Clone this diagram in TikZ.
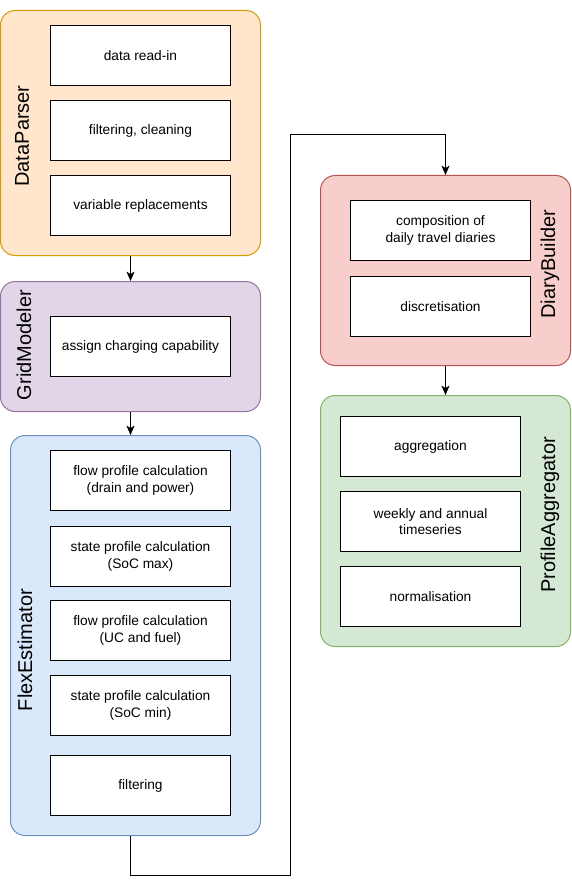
\documentclass[tikz,border=0pt]{standalone}
\usepackage{fontspec}
\setmainfont{Liberation Sans}
\usetikzlibrary{arrows.meta,positioning}

\definecolor{parserfill}{HTML}{FFE6CC}
\definecolor{parserline}{HTML}{D79B00}
\definecolor{gridfill}{HTML}{E1D5E7}
\definecolor{gridline}{HTML}{9673A6}
\definecolor{flexfill}{HTML}{DAE8FC}
\definecolor{flexline}{HTML}{6C8EBF}
\definecolor{diaryfill}{HTML}{F8CECC}
\definecolor{diaryline}{HTML}{B85450}
\definecolor{aggrfill}{HTML}{D5E8D4}
\definecolor{aggrline}{HTML}{82B366}

\tikzset{
  module/.style={draw, line width=0.75pt, rounded corners=11pt, anchor=north west, inner sep=0pt},
  stepbox/.style={draw, fill=white, line width=0.75pt, anchor=north west, inner sep=0pt,
    minimum width=135pt, minimum height=45pt, align=center,
    font=\fontsize{10.3}{12.6}\selectfont},
  modlabel/.style={rotate=90, inner sep=0pt, font=\fontsize{15}{18}\selectfont},
  flow/.style={line width=0.75pt, -{Stealth[length=7pt,width=6pt,inset=1.8pt]}}
}

\begin{document}
\begin{tikzpicture}[x=0.75pt,y=0.75pt,yscale=-1,xscale=1]
\useasboundingbox (0,0) rectangle (571,884);

%Shape: Containers
\node [module, fill=parserfill, draw=parserline, minimum width=195pt, minimum height=183.75pt] (parser) at (0,10) {};
\node [module, fill=gridfill, draw=gridline, minimum width=195pt, minimum height=97.5pt] (grid) at (0,281) {};
\node [module, fill=flexfill, draw=flexline, minimum width=187.5pt, minimum height=300pt] (flex) at (10,435) {};
\node [module, fill=diaryfill, draw=diaryline, minimum width=187.5pt, minimum height=142.5pt] (diary) at (320,175) {};
\node [module, fill=aggrfill, draw=aggrline, minimum width=187.5pt, minimum height=188.25pt] (aggr) at (320,395) {};

% Text Node: container titles
\node [modlabel] (parsertitle) at (22,136) {DataParser};
\node [modlabel] (gridtitle) at (24,345) {GridModeler};
\node [modlabel] (flextitle) at (25,650) {FlexEstimator};
\node [modlabel] (diarytitle) at (550,264) {DiaryBuilder};
\node [modlabel] (aggrtitle) at (550,515) {ProfileAggregator};

% Text Node: DataParser steps
\node [stepbox] (readin) at (50,25) {data read-in};
\node [stepbox] (cleaning) at (50,100) {filtering, cleaning};
\node [stepbox] (replace) at (50,175) {variable replacements};

% Text Node: GridModeler steps
\node [stepbox] (charging) at (50,316) {assign charging capability};

% Text Node: FlexEstimator steps
\node [stepbox] (drain) at (50,450) {flow profile calculation\\(drain and power)};
\node [stepbox] (socmax) at (50,526) {state profile calculation\\(SoC max)};
\node [stepbox] (fuel) at (50,600) {flow profile calculation\\(UC and fuel)};
\node [stepbox] (socmin) at (50,675) {state profile calculation\\(SoC min)};
\node [stepbox] (filtering) at (50,755) {filtering};

% Text Node: DiaryBuilder steps
\node [stepbox] (compose) at (350,200) {composition of\\daily travel diaries};
\node [stepbox] (discrete) at (350,276) {discretisation};

% Text Node: ProfileAggregator steps
\node [stepbox] (aggregation) at (340,416) {aggregation};
\node [stepbox] (timeseries) at (340,491) {weekly and annual\\timeseries};
\node [stepbox] (normal) at (340,566) {normalisation};

%Straight Lines
\coordinate (bendlow) at (290,875);
\coordinate (bendhigh) at (290,135);
\draw [flow] (parser.south) -- (grid.north);
\draw [flow] (grid.south) -- (grid.south |- flex.north);
\draw [flow] (flex.south -| grid.south) |- (bendlow) -- (bendhigh) -| (diary.north);
\draw [flow] (diary.south) -- (aggr.north);

\end{tikzpicture}
\end{document}
